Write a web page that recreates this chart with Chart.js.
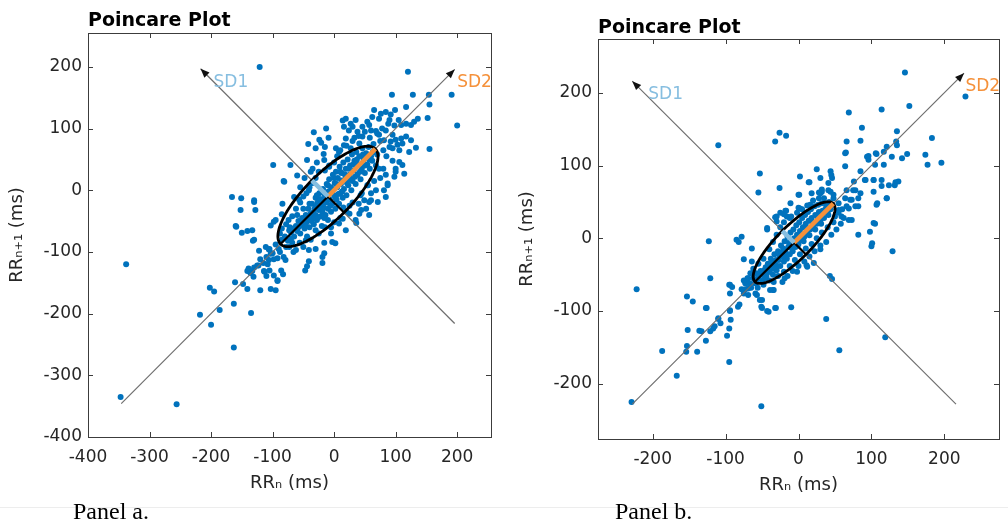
<!DOCTYPE html>
<html><head><meta charset="utf-8">
<script src="https://cdn.jsdelivr.net/npm/chart.js@4/dist/chart.umd.min.js"></script>
<style>
html,body{margin:0;padding:0;background:#fff;width:1008px;height:522px;overflow:hidden;position:relative;}
.panel{position:absolute;top:0;height:500px;}
#wa{left:0;width:500px;}
#wb{left:500px;width:508px;}
.cap{position:absolute;font-family:"Liberation Serif","Times New Roman",serif;font-size:24px;color:#000;line-height:1;white-space:nowrap;}
.rule{position:absolute;left:0;width:1008px;top:507px;height:1px;background:#ededed;}
</style></head><body>
<div class="rule"></div>
<div class="panel" id="wa"><canvas id="ca"></canvas></div>
<div class="panel" id="wb"><canvas id="cb"></canvas></div>
<div class="cap" style="left:73px;top:499px">Panel a.</div>
<div class="cap" style="left:615px;top:499px">Panel b.</div>
<script>
// ---------------- DATA ----------------
const chartTitle = 'Poincare Plot';
const xAxisTitle = 'RRₙ (ms)';
const yAxisTitle = 'RRₙ₊₁ (ms)';
const sd1Text = 'SD1';
const sd2Text = 'SD2';

// Panel a
const panelAXTicks = [-400, -300, -200, -100, 0, 100, 200];
const panelAYTicks = [-400, -300, -200, -100, 0, 100, 200];
const panelAXRange = [-400, 255];
const panelAYRange = [-400, 255];
const panelACenter = [-10, -10];
const panelASD1 = 37;
const panelASD2 = 109;
const panelASD1Axis = [[-217, 197], [196, -216]];
const panelASD2Axis = [[-346, -346], [196, 196]];
const panelASD1LabelAt = [-196, 175];
const panelASD2LabelAt = [200, 175];
const panelAPoints = [
 [-121,200],[120,192],[191,155],[200,105],[154,155],[128,155],[94,155],[155,139],[152,117],[117,135],[136,116],[155,67],
 [-338,-120],[-347,-335],[-256,-347],[-163,-255],[-218,-202],[-200,-218],[-186,-194],[-163,-184],[-135,-199],[-202,-158],
 [-195,-164],[-161,-149],[-148,-152],[-141,-160],[-120,-162],[-103,-160],[-95,-162],[-92,-147],[-98,-138],[-83,-136],
 [-86,-130],[-113,-132],[-110,-139],[-105,-130],[-141,-131],[-131,-140],[-136,-134],[-130,-125],[-125,-122],[-47,-130],
 [-44,-123],[-41,-115],[-19,-118],
 [-152,-32],[-128,-32],[-130,-19],[-160,-58],[-150,-69],[-133,-65],[-132,-82],[-103,-57],[-85,-39],[-98,-51],[-122,-98],
 [-111,-92],[-103,-103],[-106,-113],[-139,-127],[-133,-131],[-123,-122],[-114,-131],[-92,-146],[-79,-113],[-19,-108],
 [-16,-102],[-30,-95],[-41,-97],[-3,-84],[2,-86],[-73,-92],[-66,-100],
 [-33,94],[-13,100],[-24,82],[-21,77],[-9,85],[-42,75],[-15,70],[-17,59],[3,68],[14,113],[-99,41],[-71,41],[-44,49],
 [-35,35],[-60,24],[-82,15],[-16,49],[-8,38],[-166,-11],[-151,-13],[-130,-16],[-65,-11],[-41,0],
 [76,124],[84,127],[92,123],[99,130],[105,114],[90,114],[73,116],[62,119],[54,111],[27,108],[35,114],[16,103],[24,97],
 [38,95],[46,103],[57,106],[60,97],[68,96],[73,90],[84,97],[98,105],[109,106],[117,108],[125,106],[130,111],[33,85],
 [46,87],[41,76],[19,84],[16,73],[27,68],[8,62],[81,81],[92,79],[109,84],[117,87],[125,81],[103,74],[111,76],[95,68],
 [106,65],[122,62],[133,69],[106,46],[111,41],[100,35],[114,27],[98,22],[87,11],[81,0],[84,25],[73,35],[65,130],[19,116],
 [-81,14],[-159,-59],[-141,-66],[-130,-80],[-106,-96],[-95,-48],[-84,-22],[-57,-15],[-30,68],[30,103],[35,-48],[19,-65],
 [-5,-70],[-16,-85],[-46,-81],[-62,-97],[-73,-65],[87,8],[84,-11],[57,-19],[68,0],[54,8],[43,-8],[52,-30],[41,-38],
 [71,-19],[57,-40],[44,-32],[49,-16],[60,-16],[36,-53],[25,-38],[14,-46],[8,-54],
 [-80,-75],[-75,-82],[-70,-68],[-72,-60],[-65,-75],[-62,-58],[-60,-66],[-58,-50],[-55,-70],[-52,-45],[-50,-58],[-48,-62],
 [-46,-40],[-45,-52],[-42,-30],[-40,-48],[-40,-60],[-38,-38],[-36,-22],[-35,-44],[-33,-55],[-32,-30],[-30,-12],[-30,-40],
 [-28,-48],[-27,-20],[-25,-32],[-24,-5],[-22,-42],[-21,-25],[-20,-15],[-19,-35],[-18,2],[-17,-28],[-15,-8],[-14,-40],
 [-12,-20],[-12,10],[-10,-30],[-9,-2],[-8,18],[-7,-15],[-5,-35],[-5,5],[-3,-22],[-2,25],[0,-8],[1,12],[2,-30],[3,30],
 [4,-15],[5,5],[6,20],[8,-22],[9,38],[10,-5],[11,10],[12,28],[14,-12],[15,45],[16,2],[18,18],[19,35],[20,-8],[22,50],
 [23,8],[25,25],[26,40],[28,0],[29,58],[30,15],[32,32],[33,48],[35,10],[36,62],[38,25],[40,42],[41,55],[43,18],[45,35],
 [46,68],[48,50],[50,28],[52,60],[54,42],[56,70],[58,35],[60,55],[62,48],[64,75],[66,62],[68,40],[70,58],[-90,-95],
 [-85,-80],[-78,-92],[-68,-85],[-95,-88],[-100,-102],[-88,-100],[-92,-110],[-82,-108],[-105,-95],[-98,-112],[-110,-108],
 [-115,-118],[-120,-112],[-108,-120],[-56,-85],[-50,-92],[-44,-75],[-38,-80],[-30,-65],[-25,-70],[-20,-58],[-15,-60],
 [-10,-48],[-62,-30],[-55,-20],[-50,-10],[-45,-5],[-40,5],[-35,12],[-30,20],[-25,30],[-68,-42],[-74,-48],[-78,-55],
 [-85,-62],[-88,-70],[-28,45],[-38,30],[-48,20],[-55,5],[5,55],[0,45],[-8,40],[-15,32],[10,65],[20,72],[30,80],[40,88],
 [50,95],[58,85],[70,92],[75,80],[80,65],[85,55],[90,70],[95,90],[100,82],[78,100],[88,108],[95,48],[100,30],[75,20],
 [65,15],[80,35],[60,-5],[45,-5],[30,-20],[20,-35],[10,-45],[0,-52],[-5,-60],[25,-25],[40,-22],[55,8],[15,-28],
 [-70,-78],[-66,-62],[-58,-60],[-52,-52],[-46,-58],[-42,-44],[-37,-50],[-34,-36],[-29,-26],[-26,-44],[-23,-14],[-18,-22],
 [-16,-45],[-11,-12],[-6,-25],[-4,-4],[2,-12],[4,10],[7,-6],[12,16],[13,-2],[17,26],[21,12],[24,35],[27,18],[31,42],
 [34,22],[37,50],[42,30],[47,58],[50,40],[57,50],[63,62],[-60,-40],[-50,-30],[-40,-22],[-28,-8],[-20,0],[-10,8],[0,20],[10,30]
];

// Panel b
const panelBXTicks = [-200, -100, 0, 100, 200];
const panelBYTicks = [-200, -100, 0, 100, 200];
const panelBXRange = [-275, 275];
const panelBYRange = [-276, 274];
const panelBCenter = [-6, -6];
const panelBSD1 = 23;
const panelBSD2 = 76;
const panelBSD1Axis = [[-228, 216], [216, -228]];
const panelBSD2Axis = [[-228, -228], [227, 227]];
const panelBSD1LabelAt = [-206, 197];
const panelBSD2LabelAt = [229, 208];
const panelBPoints = [
 [146,228],[152,182],[229,195],[114,177],[69,173],[87,152],[135,147],[183,138],[66,133],[85,134],[134,133],[121,126],
 [135,128],[117,119],[107,116],[149,116],[174,115],[142,110],[128,112],[94,112],[96,108],[177,101],[196,104],[64,117],
 [105,101],[117,101],[85,92],[103,80],[114,80],[133,77],[137,78],[124,73],[121,55],[103,64],[92,80],[76,78],[66,66],
 [78,66],[85,62],[108,48],[103,21],[98,9],[82,5],[73,25],[69,41],[82,44],[71,53],[64,55],[-110,128],[-32,133],[-26,145],
 [-17,141],[-53,89],[-55,63],[-26,69],[2,85],[14,77],[25,95],[30,83],[44,92],[46,83],[41,76],[18,62],[30,62],[0,60],
 [-123,-4],[-85,-2],[-78,2],[-43,12],[-30,30],[-17,38],[-11,48],[2,41],[16,46],[32,64],[41,66],[48,60],
 [-222,-70],[-229,-225],[-51,-231],[-121,-55],[-153,-80],[-145,-87],[-127,-96],[-95,-64],[-91,-67],[-94,-76],[-69,-55],
 [-67,-62],[-73,-70],[-69,-78],[-57,-78],[-50,-85],[-35,-71],[-51,-94],[-43,-100],[-31,-96],[-10,-95],[-81,-91],[-83,-94],
 [-94,-100],[-93,-112],[-95,-124],[-98,-134],[-95,-170],[-110,-111],[-107,-117],[-115,-121],[-117,-124],[-121,-128],
 [-133,-128],[-136,-127],[-127,-141],[-152,-126],[-153,-148],[-154,-156],[-139,-156],[-187,-155],[-167,-189],[21,-34],
 [12,-39],[43,-52],[46,-56],[38,-111],[56,-154],[119,-136],[-2,-46],[-19,-55],
 [100,-11],[129,-18],[11,-37],[30,-15],
 [65,118],[96,113],[106,117],[45,87],[64,99],[15,77],[32,67],[28,63],[44,64],[75,66],[82,55],[73,53],[66,44],[78,44],
 [55,39],[59,30],[69,25],[107,46],[121,55],[105,20],[101,-7],[91,80],[103,80],[114,72],[132,73],
 [1,60],[0,42],[-32,29],[-20,33],[-16,30],[-30,23],[-43,14],[-64,-14],
 [-82,-5],[-75,-29],[-64,-32],[-94,-64],[-73,-62],[-69,-69],[-75,-76],[-59,-76],[-53,-85],[-39,-71],[-34,-71],[-32,-96],
 [-50,-96],[-41,-101],[-126,-96],[-94,-99],[-110,-110],
 [-55,-55],[-50,-58],[-52,-45],[-48,-50],[-45,-40],[-44,-52],[-42,-35],[-40,-46],[-38,-28],[-37,-42],[-35,-50],[-33,-22],
 [-32,-36],[-30,-44],[-28,-18],[-27,-30],[-25,-38],[-24,-10],[-22,-25],[-20,-32],[-19,-4],[-18,-18],[-16,-28],[-15,2],
 [-14,-12],[-12,-22],[-11,8],[-10,-6],[-8,-18],[-7,12],[-6,0],[-4,-12],[-3,18],[-2,5],[0,-8],[1,22],[2,10],[4,-2],[5,28],
 [6,15],[8,2],[9,32],[10,20],[12,8],[13,36],[14,24],[16,12],[17,40],[18,28],[20,15],[22,44],[23,32],[25,20],[27,46],
 [28,36],[30,25],[32,48],[33,38],[35,28],[38,45],[40,35],[42,50],[44,40],[-60,-62],[-58,-48],[-62,-55],[-65,-68],
 [-56,-68],[-48,-64],[-40,-58],[-34,-60],[-28,-52],[-20,-46],[-12,-38],[-5,-30],[2,-22],[10,-14],[18,-8],[25,0],[32,8],
 [40,15],[48,22],[50,30],[55,35],[-40,-15],[-35,-5],[-30,5],[-25,15],[-20,22],[-12,28],[-48,-28],[-55,-35],[-62,-42],
 [-70,-55],[-66,-48],[-72,-62],[-78,-70],[-75,-58],[45,5],[52,12],[58,20],[38,-5],[30,-10],[22,-18],[15,-25],[8,-32],
 [0,-38],[-8,-45],[-15,-52],[-22,-60],[60,40],[55,48],[48,55],[62,28],[35,55],[28,55],[20,52],[12,45],[5,40],[-2,35],
 [-10,30],[-18,38],[-25,35],
 [-52,-50],[-47,-44],[-43,-47],[-39,-38],[-36,-33],[-31,-30],[-29,-38],[-26,-24],[-23,-20],[-21,-14],[-17,-24],[-13,-6],
 [-9,-14],[-5,-2],[-1,-10],[3,6],[7,-4],[11,14],[15,4],[19,22],[23,12],[26,30],[31,20],[34,34],[37,40],[41,32],[45,45],
 [-58,-60],[-46,-55],[-34,-42]
];

// ---------------- STYLE ----------------
const FONT = 'DejaVu Sans';
const TEXT = '#262626';
const DOT = '#0072BD';
const SD1C = '#86BEE0';
const SD2C = '#F5913A';

function overlay(c) {
  return {
    id: 'overlay',
    afterDatasetsDraw(chart) {
      const ctx = chart.ctx, xs = chart.scales.x, ys = chart.scales.y;
      const P = (x, y) => [xs.getPixelForValue(x), ys.getPixelForValue(y)];
      const seg = (p, q) => { ctx.beginPath(); ctx.moveTo(p[0], p[1]); ctx.lineTo(q[0], q[1]); ctx.stroke(); };
      const arrow = (from, to) => {
        const ang = Math.atan2(to[1] - from[1], to[0] - from[0]);
        const L = 9, W = 3.6;
        const bx = to[0] - L * Math.cos(ang), by = to[1] - L * Math.sin(ang);
        ctx.beginPath();
        ctx.moveTo(to[0], to[1]);
        ctx.lineTo(bx + W * Math.sin(ang), by - W * Math.cos(ang));
        ctx.lineTo(bx - W * Math.sin(ang), by + W * Math.cos(ang));
        ctx.closePath(); ctx.fill();
      };
      ctx.save();
      ctx.lineCap = 'butt';
      ctx.strokeStyle = '#6e6e6e'; ctx.lineWidth = 1.2;
      const a1 = P(...c.sd1Axis[0]), a2 = P(...c.sd1Axis[1]);
      const b1 = P(...c.sd2Axis[0]), b2 = P(...c.sd2Axis[1]);
      seg(a1, a2); seg(b1, b2);
      ctx.fillStyle = '#111';
      arrow(a2, a1); arrow(b1, b2);
      const r = Math.SQRT1_2, cx = c.center[0], cy = c.center[1];
      ctx.strokeStyle = '#000'; ctx.lineWidth = 2.8;
      ctx.beginPath();
      for (let i = 0; i <= 120; i++) {
        const t = i / 120 * 2 * Math.PI;
        const u = c.sd2 * Math.cos(t), v = c.sd1 * Math.sin(t);
        const p = P(cx + r * (u - v), cy + r * (u + v));
        if (i === 0) ctx.moveTo(p[0], p[1]); else ctx.lineTo(p[0], p[1]);
      }
      ctx.closePath(); ctx.stroke();
      const C = P(cx, cy);
      ctx.lineWidth = 2.2;
      seg(C, P(cx - r * c.sd2, cy - r * c.sd2));
      seg(C, P(cx + r * c.sd1, cy - r * c.sd1));
      ctx.lineWidth = 4.5;
      ctx.strokeStyle = SD2C;
      seg(C, P(cx + r * c.sd2, cy + r * c.sd2));
      ctx.strokeStyle = SD1C;
      seg(C, P(cx - r * c.sd1, cy + r * c.sd1));
      ctx.restore();
    },
    afterDraw(chart) {
      const ctx = chart.ctx, xs = chart.scales.x, ys = chart.scales.y, A = chart.chartArea;
      ctx.save();
      ctx.strokeStyle = '#3c3c3c'; ctx.lineWidth = 1;
      const L = 5;
      ctx.beginPath();
      c.xTicks.forEach(v => {
        const x = Math.round(xs.getPixelForValue(v)) + 0.5;
        ctx.moveTo(x, A.bottom); ctx.lineTo(x, A.bottom - L);
        ctx.moveTo(x, A.top); ctx.lineTo(x, A.top + L);
      });
      c.yTicks.forEach(v => {
        const y = Math.round(ys.getPixelForValue(v)) + 0.5;
        ctx.moveTo(A.left, y); ctx.lineTo(A.left + L, y);
        ctx.moveTo(A.right, y); ctx.lineTo(A.right - L, y);
      });
      ctx.stroke();
      ctx.strokeRect(Math.round(A.left) + 0.5, Math.round(A.top) + 0.5, Math.round(A.right - A.left), Math.round(A.bottom - A.top));
      ctx.font = '17px "' + FONT + '"';
      ctx.textAlign = 'left'; ctx.textBaseline = 'middle';
      ctx.fillStyle = SD1C;
      ctx.fillText(sd1Text, xs.getPixelForValue(c.sd1Label[0]), ys.getPixelForValue(c.sd1Label[1]));
      ctx.fillStyle = SD2C;
      ctx.fillText(sd2Text, xs.getPixelForValue(c.sd2Label[0]), ys.getPixelForValue(c.sd2Label[1]));
      ctx.restore();
    }
  };
}

function makePanel(id, c) {
  return new Chart(document.getElementById(id), {
    type: 'scatter',
    data: { datasets: [{ data: c.points.map(p => ({ x: p[0], y: p[1] })), backgroundColor: DOT, borderWidth: 0, pointRadius: 3 }] },
    options: {
      responsive: true, maintainAspectRatio: false, animation: false, events: [],
      layout: { padding: { left: 0, right: c.padRight, top: 0, bottom: 0 } },
      plugins: {
        legend: { display: false }, tooltip: { enabled: false },
        title: { display: true, text: chartTitle, align: 'start', fullSize: false, color: '#000',
          font: { family: FONT, size: 19, weight: 'bold' }, padding: { top: c.titleTop, bottom: c.titleBottom } }
      },
      scales: {
        x: { type: 'linear', position: 'bottom', min: c.xRange[0], max: c.xRange[1],
          afterBuildTicks: s => { s.ticks = c.xTicks.map(v => ({ value: v })); },
          afterFit: s => { s.height = c.xH; },
          grid: { display: false, drawTicks: false }, border: { display: false },
          ticks: { padding: c.xTickPad, color: TEXT, font: { family: FONT, size: 17 }, maxRotation: 0, autoSkip: false },
          title: { display: true, text: xAxisTitle, color: TEXT, font: { family: FONT, size: 18 }, padding: { top: 0, bottom: c.xTitlePad } } },
        y: { type: 'linear', position: 'left', min: c.yRange[0], max: c.yRange[1],
          afterBuildTicks: s => { s.ticks = c.yTicks.map(v => ({ value: v })); },
          afterFit: s => { s.width = c.yW; },
          grid: { display: false, drawTicks: false }, border: { display: false },
          ticks: { padding: 6, color: TEXT, font: { family: FONT, size: 17 }, autoSkip: false },
          title: { display: true, text: yAxisTitle, color: TEXT, font: { family: FONT, size: 18 }, padding: { top: c.yTitlePad, bottom: 0 } } }
      }
    },
    plugins: [overlay(c)]
  });
}

makePanel('ca', {
  points: panelAPoints, xTicks: panelAXTicks, yTicks: panelAYTicks, xRange: panelAXRange, yRange: panelAYRange,
  center: panelACenter, sd1: panelASD1, sd2: panelASD2, sd1Axis: panelASD1Axis, sd2Axis: panelASD2Axis,
  sd1Label: panelASD1LabelAt, sd2Label: panelASD2LabelAt,
  padRight: 9, titleTop: 9.5, titleBottom: 0.7, xH: 63, xTickPad: 10, xTitlePad: 6, yW: 88, yTitlePad: 7
});
makePanel('cb', {
  points: panelBPoints, xTicks: panelBXTicks, yTicks: panelBYTicks, xRange: panelBXRange, yRange: panelBYRange,
  center: panelBCenter, sd1: panelBSD1, sd2: panelBSD2, sd1Axis: panelBSD1Axis, sd2Axis: panelBSD2Axis,
  sd1Label: panelBSD1LabelAt, sd2Label: panelBSD2LabelAt,
  padRight: 9, titleTop: 16.2, titleBottom: 0, xH: 61, xTickPad: 10, xTitlePad: 4, yW: 98, yTitlePad: 17
});
</script>
</body></html>
